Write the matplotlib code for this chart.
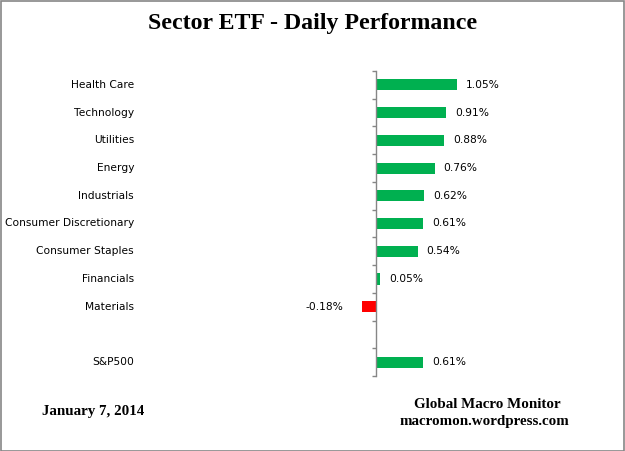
import matplotlib.pyplot as plt
import matplotlib.transforms as mtransforms

# Datos del grafico
sectores = ['Health Care', 'Technology', 'Utilities', 'Energy', 'Industrials',
            'Consumer Discretionary', 'Consumer Staples', 'Financials',
            'Materials', '', 'S&P500']
rendimientos = [1.05, 0.91, 0.88, 0.76, 0.62, 0.61, 0.54, 0.05, -0.18, None, 0.61]

W, H = 625, 451
fig = plt.figure(figsize=(W / 100, H / 100), dpi=100)
fig.patch.set_facecolor('white')

# Ejes: x=0 en el pixel 376, 77 px por 1%
x0_px, px_por_unidad = 376, 77.0
ax_left, ax_right = 150, 600
ax_top, ax_bottom = 71, 376
ax = fig.add_axes([ax_left / W, 1 - ax_bottom / H,
                   (ax_right - ax_left) / W, (ax_bottom - ax_top) / H])
ax.set_xlim((ax_left - x0_px) / px_por_unidad, (ax_right - x0_px) / px_por_unidad)
n = len(sectores)
ax.set_ylim(n - 0.5, -0.5)

for i, v in enumerate(rendimientos):
    if v is None:
        continue
    color = '#00B050' if v >= 0 else '#FF0000'
    ax.barh(i, v, height=0.4, color=color, edgecolor='none')
    if v >= 0:
        ax.annotate(f'{v:.2f}%', (v, i), xytext=(6.5, 0), textcoords='offset points',
                    ha='left', va='center', fontsize=7.7, color='black')
    else:
        ax.annotate(f'{v:.2f}%', (v, i), xytext=(-13.5, 0), textcoords='offset points',
                    ha='right', va='center', fontsize=7.7, color='black')

# Etiquetas de categorias alineadas a la derecha en x=134 px
trans = mtransforms.blended_transform_factory(fig.transFigure, ax.transData)
for i, s in enumerate(sectores):
    if s:
        fig.text(134 / W, i, s, transform=trans, ha='right', va='center',
                 fontsize=7.7, color='black')

# Estilo del eje
for lado in ['top', 'right', 'bottom']:
    ax.spines[lado].set_visible(False)
ax.spines['left'].set_position(('data', 0))
ax.spines['left'].set_color('#868686')
ax.spines['left'].set_linewidth(1.0)
ax.set_xticks([])
ax.set_yticks([i - 0.5 for i in range(n + 1)])
ax.set_yticklabels([])
ax.tick_params(axis='y', direction='out', length=3, color='#868686', width=1.0)
ax.set_facecolor('none')

# Titulo y notas
fig.text(312.5 / W, 1 - 23 / H, 'Sector ETF - Daily Performance', ha='center', va='center',
         fontsize=17.2, fontweight='bold', family='Liberation Serif')
fig.text(42 / W, 1 - 411 / H, 'January 7, 2014', ha='left', va='center',
         fontsize=10.8, fontweight='bold', family='Liberation Serif')
fig.text(487 / W, 1 - 405 / H, 'Global Macro Monitor', ha='center', va='center',
         fontsize=10.8, fontweight='bold', family='Liberation Serif')
fig.text(484 / W, 1 - 422 / H, 'macromon.wordpress.com', ha='center', va='center',
         fontsize=10.8, fontweight='bold', family='Liberation Serif')

# Borde de la figura
borde = plt.Rectangle((0.5 / W, 0.5 / H), 1 - 1.5 / W, 1 - 1.5 / H, transform=fig.transFigure,
                      fill=False, edgecolor='#868686', linewidth=1.2)
fig.patches.append(borde)

fig.savefig('out.png', dpi=100, facecolor='white')
